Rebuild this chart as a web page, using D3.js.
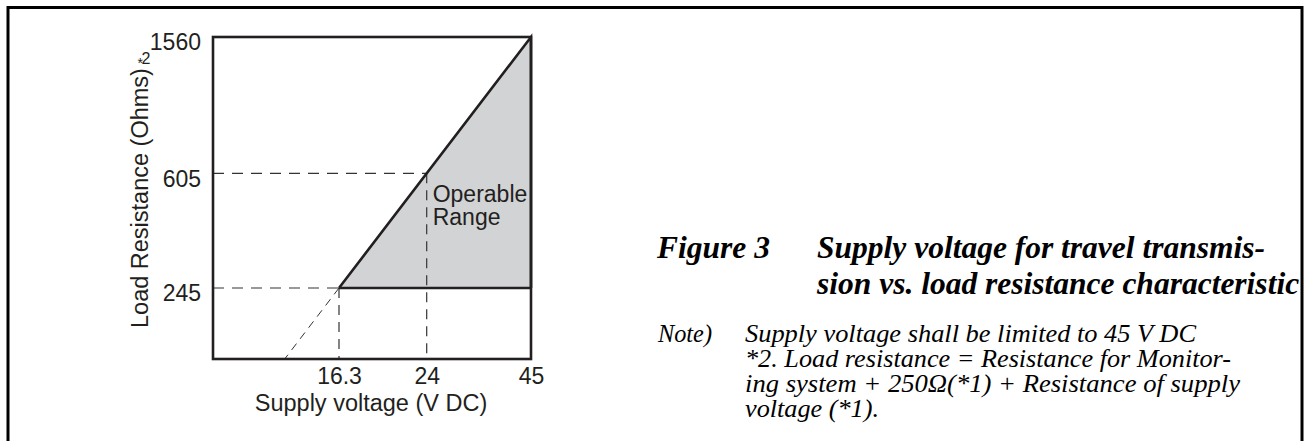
<!DOCTYPE html>
<html>
<head>
<meta charset="utf-8">
<script src="https://cdn.jsdelivr.net/npm/d3@7"></script>
<style>
  body { margin: 0; background: #fff; }
</style>
</head>
<body>
<div id="viz"></div>
<script>
// tick values on both axes
var voltTicks = [16.3, 24, 45],
    resTicks = [245, 605, 1560];

// corners of the operable range (V DC, Ohms)
var rangeVolt = [16.3, 45, 45],
    rangeRes = [245, 1560, 245];

// dashed guide lines dropped from the limit line
var guideVolt = [24, 16.3],
    guideRes = [605, 245];

var captionHead = "Figure 3",
    captionLines = ["Supply voltage for travel transmis-",
                    "sion vs. load resistance characteristic"];
var noteHead = "Note)",
    noteLines = ["Supply voltage shall be limited to 45 V DC",
                 "*2. Load resistance = Resistance for Monitor-",
                 "ing system + 250\u03A9(*1) + Resistance of supply",
                 "voltage (*1)."],
    noteWidths = [451, 486, 495, 134];

var svg_dx = 1309,
    svg_dy = 441,
    margin = {top: 37, left: 213},
    width = 318,
    height = 322;

var ink = "#231f20",
    sans = "'Liberation Sans', Arial, sans-serif",
    serif = "'Liberation Serif', 'Times New Roman', serif";

// the figure is a sketch: both axes are piecewise linear
var x = d3.scaleLinear().domain([0, 16.3, 24, 45]).range([0, 126, 213.7, width]);
var y = d3.scaleLinear().domain([0, 245, 605, 1560]).range([height, 251, 136.3, 0]);

var svg = d3.select("#viz")
    .append("svg")
    .attr("width", svg_dx)
    .attr("height", svg_dy);

// outer box of the page figure (bottom runs off the picture)
svg.append("rect")
    .attr("x", 8)
    .attr("y", 7.5)
    .attr("width", 1294)
    .attr("height", 500)
    .attr("fill", "none")
    .attr("stroke", "#000")
    .attr("stroke-width", 3);

var g = svg.append("g")
    .attr("transform", "translate(" + margin.left + "," + margin.top + ")");

// shaded operable range
var pts = rangeVolt.map(function(v, i) { return [x(v), y(rangeRes[i])]; });
g.append("path")
    .attr("d", d3.line()(pts) + "Z")
    .attr("fill", "#d1d3d4")
    .attr("stroke", "none");

// dashed guides
guideVolt.forEach(function(v, i) {
    g.append("line")
        .attr("x1", 0).attr("x2", x(v))
        .attr("y1", y(guideRes[i])).attr("y2", y(guideRes[i]))
        .attr("stroke", "#333").attr("stroke-width", 1.2)
        .attr("stroke-dasharray", "11,8");
    g.append("line")
        .attr("x1", x(v)).attr("x2", x(v))
        .attr("y1", y(guideRes[i])).attr("y2", height)
        .attr("stroke", "#333").attr("stroke-width", 1.2)
        .attr("stroke-dasharray", "10,7");
});

// extension of the limit line down to the axis
var slope = (y(1560) - y(245)) / (x(45) - x(16.3)),
    footX = x(16.3) + (y(0) - y(245)) / slope;
g.append("line")
    .attr("x1", x(16.3)).attr("y1", y(245))
    .attr("x2", footX).attr("y2", y(0))
    .attr("stroke", "#333").attr("stroke-width", 1)
    .attr("stroke-dasharray", "8,6");

// limit line and lower edge of the range
g.append("path")
    .attr("d", d3.line()(pts))
    .attr("fill", "none")
    .attr("stroke", ink)
    .attr("stroke-width", 2.6)
    .attr("stroke-linejoin", "miter");
g.append("line")
    .attr("x1", x(16.3)).attr("x2", x(45))
    .attr("y1", y(245)).attr("y2", y(245))
    .attr("stroke", ink).attr("stroke-width", 2.6);

// frame
g.append("rect")
    .attr("x", 0).attr("y", 0)
    .attr("width", width).attr("height", height)
    .attr("fill", "none")
    .attr("stroke", ink)
    .attr("stroke-width", 2.6);

// axes
var xAxis = g.append("g")
    .attr("transform", "translate(0," + height + ")")
    .call(d3.axisBottom(x).tickValues(voltTicks).tickSize(0).tickPadding(9).tickFormat(d3.format("")));
var yAxis = g.append("g")
    .call(d3.axisLeft(y).tickValues(resTicks).tickSize(0).tickPadding(12).tickFormat(d3.format("")));

[xAxis, yAxis].forEach(function(a) {
    a.select(".domain").remove();
    a.selectAll("text")
        .attr("fill", ink)
        .style("font-family", sans)
        .style("font-size", "23px");
});
yAxis.selectAll("text").attr("dy", "0.56em");

// axis titles
g.append("text")
    .attr("x", width / 2 - 1)
    .attr("y", height + 52)
    .attr("text-anchor", "middle")
    .attr("fill", ink)
    .style("font-family", sans)
    .style("font-size", "23.5px")
    .text("Supply voltage (V DC)");

g.append("text")
    .attr("transform", "rotate(-90)")
    .attr("x", -291)
    .attr("y", -65.5)
    .attr("text-anchor", "start")
    .attr("fill", ink)
    .style("font-family", sans)
    .style("font-size", "23.5px")
    .text("Load Resistance (Ohms)");

// footnote mark, upright
g.append("text")
    .attr("x", -75.5).attr("y", 30.5)
    .attr("fill", ink)
    .style("font-family", sans).style("font-size", "14px")
    .text("*");
g.append("text")
    .attr("x", -71.5).attr("y", 26.5)
    .attr("fill", ink)
    .style("font-family", sans).style("font-size", "16px")
    .text("2");

// label inside the range
["Operable", "Range"].forEach(function(d, i) {
    g.append("text")
        .attr("x", x(24) + 6)
        .attr("y", y(605) + 29 + i * 23)
        .attr("fill", ink)
        .style("font-family", sans)
        .style("font-size", "23px")
        .text(d);
});

// caption
svg.append("text")
    .attr("x", 657).attr("y", 258)
    .style("font-family", serif)
    .style("font-weight", "bold").style("font-style", "italic")
    .style("font-size", "31.5px")
    .text(captionHead);
svg.append("g")
    .selectAll("text")
    .data(captionLines)
    .enter()
    .append("text")
    .attr("x", 817)
    .attr("y", function(d, i) { return 258 + i * 35.5; })
    .style("font-family", serif)
    .style("font-weight", "bold").style("font-style", "italic")
    .style("font-size", "31.5px")
    .text(function(d) { return d; });

// notes (the source face is wider than Times, so stretch to its widths)
svg.append("text")
    .attr("x", 658).attr("y", 341.5)
    .attr("textLength", 54)
    .attr("lengthAdjust", "spacingAndGlyphs")
    .style("font-family", serif).style("font-style", "italic")
    .style("font-size", "24.5px")
    .text(noteHead);
svg.append("g")
    .selectAll("text")
    .data(noteLines)
    .enter()
    .append("text")
    .attr("x", 745)
    .attr("y", function(d, i) { return 341.5 + i * 25; })
    .attr("textLength", function(d, i) { return noteWidths[i]; })
    .attr("lengthAdjust", "spacingAndGlyphs")
    .style("font-family", serif).style("font-style", "italic")
    .style("font-size", "24.5px")
    .text(function(d) { return d; });
</script>
</body>
</html>
